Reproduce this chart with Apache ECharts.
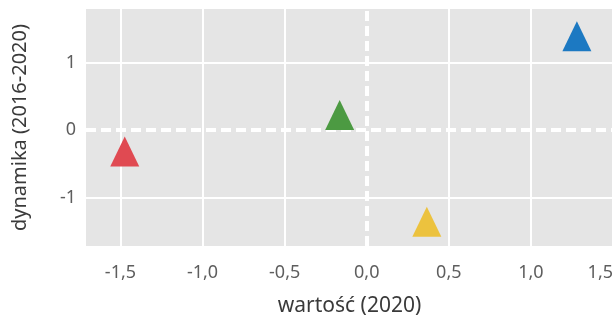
<!DOCTYPE html>
<html>
<head>
<meta charset="utf-8">
<script src="https://cdn.jsdelivr.net/npm/echarts@6/dist/echarts.min.js"></script>
<style>
  html, body { margin: 0; padding: 0; background: #ffffff; }
  #chart { width: 616px; height: 322px; }
</style>
</head>
<body>
<div id="chart"></div>
<script>
// Data
const pointX = [-1.474, -0.165, 0.366, 1.28];
const pointY = [-0.39, 0.15, -1.434, 1.32];
const pointColors = ['#e04a52', '#4c9a42', '#ecc23e', '#1c79c2'];
const xTicks = [-1.5, -1.0, -0.5, 0.0, 0.5, 1.0, 1.5];
const yTicks = [-1, 0, 1];
const xName = 'wartość (2020)';
const yName = 'dynamika (2016-2020)';

const fontFamily = '"Noto Sans", "Open Sans", sans-serif';
const chart = echarts.init(document.getElementById('chart'), null, { renderer: 'canvas' });

const data = pointX.map((x, i) => ({
  value: [x, pointY[i]],
  itemStyle: { color: pointColors[i], opacity: 1 }
}));

const option = {
  animation: false,
  backgroundColor: '#ffffff',
  grid: {
    left: 86, right: 2, top: 9, bottom: 74,
    show: true, backgroundColor: '#e5e5e5', borderWidth: 0
  },
  xAxis: {
    type: 'value',
    min: -1.71, max: 1.5,
    name: xName,
    nameLocation: 'middle',
    nameGap: 50,
    nameTextStyle: { fontFamily, fontSize: 21, color: '#3a3a3a' },
    axisLine: { show: false },
    axisTick: { show: false, customValues: xTicks.filter(v => v !== 0) },
    axisLabel: {
      customValues: xTicks,
      fontFamily, fontSize: 18, color: '#5e5e5e', margin: 18,
      alignMaxLabel: 'right',
      showMaxLabel: true,
      formatter: v => v.toFixed(1).replace('.', ',')
    },
    splitLine: { show: true, lineStyle: { color: '#ffffff', width: 2 } }
  },
  yAxis: {
    type: 'value',
    min: -1.72, max: 1.8,
    name: yName,
    nameLocation: 'middle',
    nameGap: 56,
    nameRotate: 90,
    nameTextStyle: { fontFamily, fontSize: 20, color: '#3a3a3a' },
    axisLine: { show: false },
    axisTick: { show: false, customValues: yTicks.filter(v => v !== 0) },
    axisLabel: {
      customValues: yTicks,
      fontFamily, fontSize: 18, color: '#5e5e5e', margin: 10,
      formatter: v => String(v)
    },
    splitLine: { show: true, lineStyle: { color: '#ffffff', width: 2 } }
  },
  series: [
    {
      type: 'scatter',
      symbol: 'triangle',
      symbolSize: [29, 30],
      symbolOffset: [0, -5],
      itemStyle: { opacity: 1 },
      data: data,
      z: 5,
      markLine: {
        silent: true,
        symbol: 'none',
        label: { show: false },
        lineStyle: { color: '#ffffff', type: [10, 5], width: 4 },
        data: [{ xAxis: 0 }, { yAxis: 0 }]
      }
    }
  ]
};
chart.setOption(option);
</script>
</body>
</html>
